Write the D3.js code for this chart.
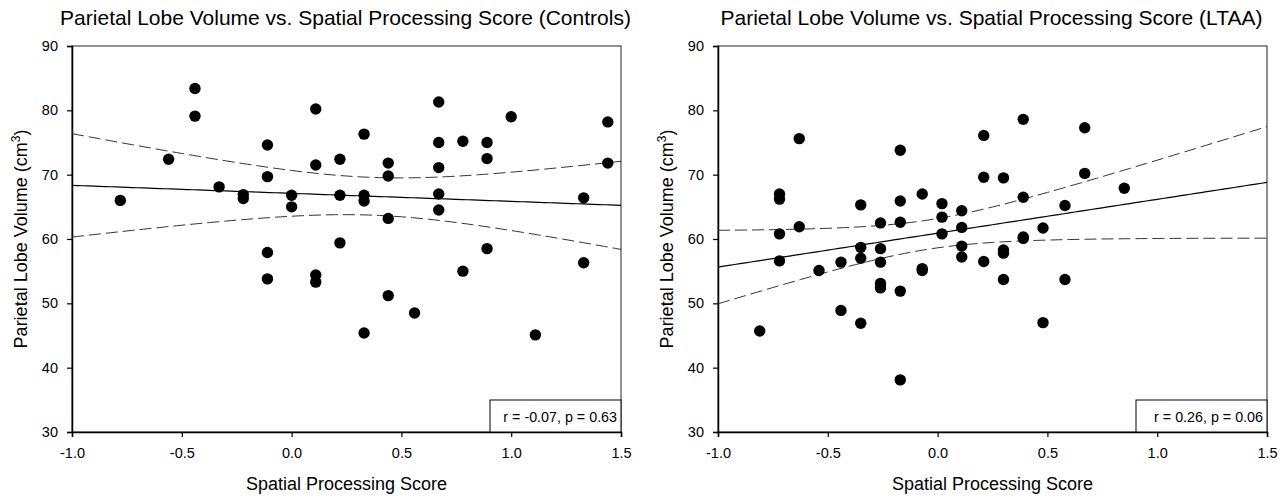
<!DOCTYPE html>
<html>
<head>
<meta charset="utf-8">
<script src="https://cdn.jsdelivr.net/npm/d3@7"></script>
<style>
  body { margin: 0; background: #fff; }
  svg { font-family: "Liberation Sans", Arial, sans-serif; }
</style>
</head>
<body>
<svg id="chart" width="1286" height="498"></svg>
<script>
// x = spatial processing score, y = parietal lobe volume (cm3)
const controlsX = [-0.78, -0.56, -0.44, -0.44, -0.33, -0.22, -0.22, -0.11, -0.11, -0.11, -0.11,
    0.00, 0.00, 0.11, 0.11, 0.11, 0.11, 0.22, 0.22, 0.22, 0.33, 0.33, 0.33, 0.33,
    0.44, 0.44, 0.44, 0.44, 0.56, 0.67, 0.67, 0.67, 0.67, 0.67, 0.78, 0.78,
    0.89, 0.89, 0.89, 1.00, 1.11, 1.33, 1.33, 1.44, 1.44];
const controlsY = [66.0, 72.4, 83.4, 79.1, 68.1, 66.9, 66.3, 74.6, 69.7, 57.9, 53.8,
    66.8, 65.0, 80.2, 71.5, 54.4, 53.3, 72.4, 66.8, 59.4, 76.3, 66.8, 65.9, 45.4,
    71.8, 69.8, 63.2, 51.2, 48.5, 81.3, 75.0, 71.1, 67.0, 64.5, 75.2, 55.0,
    75.0, 72.5, 58.5, 79.0, 45.1, 66.4, 56.3, 78.2, 71.8];

const ltaaX = [-0.81, -0.72, -0.72, -0.72, -0.72, -0.63, -0.63, -0.54, -0.44, -0.44,
    -0.35, -0.35, -0.35, -0.35, -0.26, -0.26, -0.26, -0.26, -0.26,
    -0.17, -0.17, -0.17, -0.17, -0.17, -0.07, -0.07, -0.07, 0.02, 0.02, 0.02,
    0.11, 0.11, 0.11, 0.11, 0.21, 0.21, 0.21, 0.30, 0.30, 0.30, 0.30,
    0.39, 0.39, 0.39, 0.39, 0.48, 0.48, 0.58, 0.58, 0.67, 0.67, 0.85];
const ltaaY = [45.7, 67.0, 66.2, 60.8, 56.6, 75.6, 61.9, 55.1, 56.4, 48.9,
    65.3, 58.7, 57.0, 46.9, 62.5, 58.5, 56.4, 53.1, 52.4,
    73.8, 65.9, 62.6, 51.9, 38.1, 67.0, 55.4, 55.1, 65.5, 63.4, 60.8,
    64.4, 61.8, 58.9, 57.2, 76.1, 69.6, 56.5, 69.5, 58.3, 57.8, 53.7,
    78.6, 66.5, 60.3, 60.1, 61.7, 47.0, 65.2, 53.7, 77.3, 70.2, 67.9];

const xTicks = [-1.0, -0.5, 0.0, 0.5, 1.0, 1.5];
const yTicks = [30, 40, 50, 60, 70, 80, 90];

const titles = [
    "Parietal Lobe Volume vs. Spatial Processing Score (Controls)",
    "Parietal Lobe Volume vs. Spatial Processing Score (LTAA)"
];
const statsText = ["r = -0.07, p = 0.63", "r = 0.26, p = 0.06"];

const svg = d3.select("#chart");

// least squares fit + 95% confidence band of the mean
function fit(xs, ys) {
    const n = xs.length;
    const mx = d3.mean(xs), my = d3.mean(ys);
    let sxx = 0, sxy = 0;
    xs.forEach((x, i) => { sxx += (x - mx) ** 2; sxy += (x - mx) * (ys[i] - my); });
    const b = sxy / sxx, a = my - b * mx;
    let sse = 0;
    xs.forEach((x, i) => { sse += (ys[i] - a - b * x) ** 2; });
    const s = Math.sqrt(sse / (n - 2));
    const t = 2.01;
    return x => {
        const yh = a + b * x;
        const half = t * s * Math.sqrt(1 / n + (x - mx) ** 2 / sxx);
        return [yh, yh - half, yh + half];
    };
}

const fmt = d => d3.format(".1f")(d).replace("\u2212", "-");

function panel(left, xs, ys, title, stat) {
    const plotW = 549, top = 46, bottom = 432;

    const x = d3.scaleLinear().domain([-1, 1.5]).range([left, left + plotW]);
    const y = d3.scaleLinear().domain([30, 90]).range([bottom, top]);

    const g = svg.append("g");

    // frame
    g.append("rect")
        .attr("x", left).attr("y", top)
        .attr("width", plotW).attr("height", bottom - top)
        .attr("fill", "none")
        .attr("stroke", "#222")
        .attr("stroke-width", 1);

    const xAxis = g.append("g")
        .attr("transform", `translate(0,${bottom})`)
        .call(d3.axisBottom(x).tickValues(xTicks).tickFormat(fmt).tickSize(5).tickPadding(11));
    const yAxis = g.append("g")
        .attr("transform", `translate(${left},0)`)
        .call(d3.axisLeft(y).tickValues(yTicks).tickSize(5).tickPadding(9));

    [xAxis, yAxis].forEach(a => {
        a.select(".domain").attr("stroke", "#000").attr("stroke-width", 1.5);
        a.selectAll("line").attr("stroke-width", 1.2);
        a.selectAll("text").style("font-size", "14.5px").attr("fill", "#000");
    });

    // regression line and confidence band
    const f = fit(xs, ys);
    const grid = d3.range(0, 101).map(i => -1 + i * 2.5 / 100);
    const lineFor = k => d3.line()
        .x(d => x(d))
        .y(d => y(f(d)[k]));

    g.append("path").datum(grid)
        .attr("d", lineFor(0))
        .attr("fill", "none").attr("stroke", "#000").attr("stroke-width", 1.2);
    [1, 2].forEach(k => {
        g.append("path").datum(grid)
            .attr("d", lineFor(k))
            .attr("fill", "none").attr("stroke", "#333").attr("stroke-width", 1)
            .attr("stroke-dasharray", "12,5");
    });

    g.selectAll("circle.pt")
        .data(xs.map((v, i) => [v, ys[i]]))
        .enter()
        .append("circle")
        .attr("class", "pt")
        .attr("cx", d => x(d[0]))
        .attr("cy", d => y(d[1]))
        .attr("r", 5.7)
        .attr("fill", "#000");

    // stats box
    const boxW = 131, boxH = 32;
    g.append("rect")
        .attr("x", left + plotW - boxW).attr("y", bottom - boxH)
        .attr("width", boxW).attr("height", boxH)
        .attr("fill", "#fff").attr("stroke", "#000").attr("stroke-width", 1);
    g.append("text")
        .attr("x", left + plotW - 4).attr("y", bottom - 10)
        .attr("text-anchor", "end")
        .style("font-size", "14.3px")
        .text(stat);

    g.append("text")
        .attr("x", left + plotW / 2 - 1).attr("y", 25)
        .attr("text-anchor", "middle")
        .style("font-size", "21px")
        .text(title);

    g.append("text")
        .attr("x", left + plotW / 2).attr("y", 490)
        .attr("text-anchor", "middle")
        .style("font-size", "18px")
        .text("Spatial Processing Score");

    const yl = g.append("text")
        .attr("transform", `translate(${left - 45},${(top + bottom) / 2}) rotate(-90)`)
        .attr("text-anchor", "middle")
        .style("font-size", "18px");
    yl.append("tspan").text("Parietal Lobe Volume (cm");
    yl.append("tspan").attr("baseline-shift", "super").style("font-size", "12px").text("3");
    yl.append("tspan").text(")");
}

panel(72, controlsX, controlsY, titles[0], statsText[0]);
panel(718, ltaaX, ltaaY, titles[1], statsText[1]);
</script>
</body>
</html>
